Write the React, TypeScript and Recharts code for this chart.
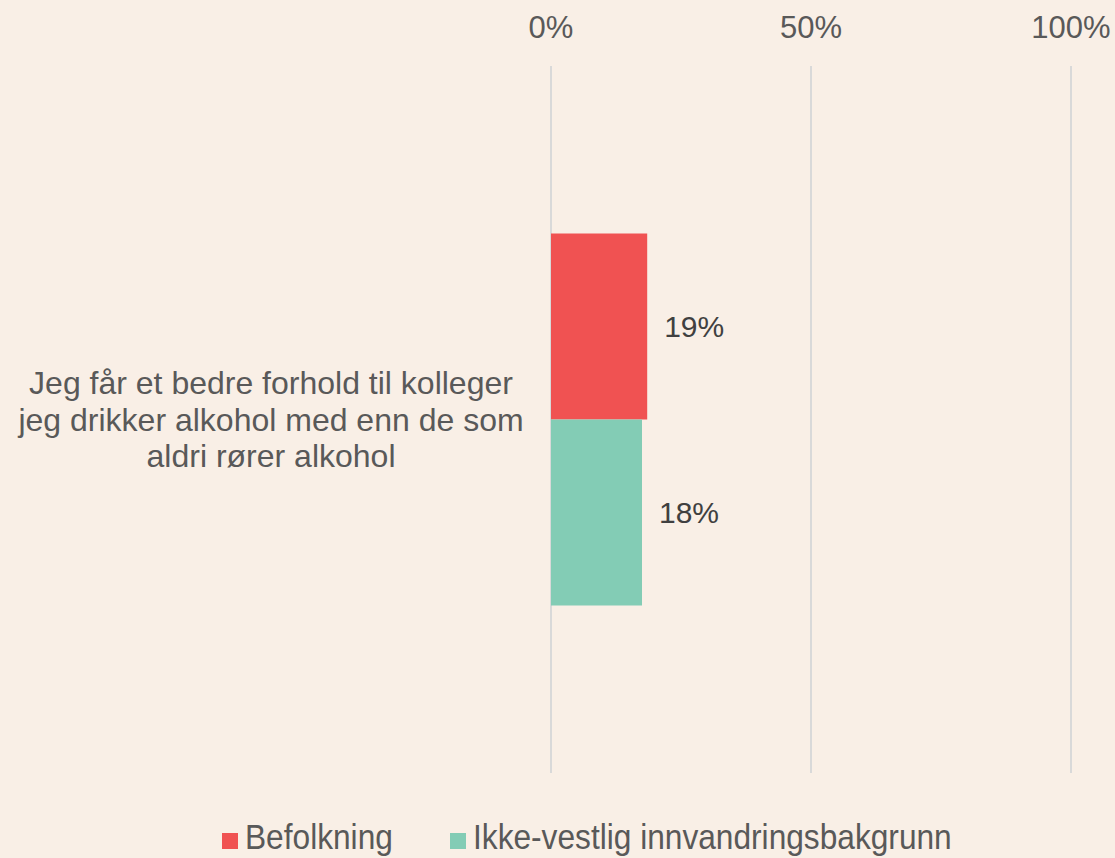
import React from "react";
import { BarChart, Bar, XAxis, YAxis, CartesianGrid, LabelList, Legend } from "recharts";

const categories = [
  "Jeg får et bedre forhold til kolleger jeg drikker alkohol med enn de som aldri rører alkohol",
];
const categoryLines = [
  [
    "Jeg får et bedre forhold til kolleger",
    "jeg drikker alkohol med enn de som",
    "aldri rører alkohol",
  ],
];
const befolkning = [0.185];
const ikkeVestlig = [0.175];
const xTicks = [0, 0.5, 1];
const seriesNames = ["Befolkning", "Ikke-vestlig innvandringsbakgrunn"];
const seriesColors = ["#F05252", "#83CCB5"];

const data = categories.map((c, i) => ({
  label: c,
  lines: categoryLines[i],
  befolkning: befolkning[i],
  ikkeVestlig: ikkeVestlig[i],
}));

const BG = "#F9EFE6";
const FONT = "'Liberation Sans', Arial, sans-serif";

const pct = (v: number) => `${Math.round(v * 100)}%`;

const YTick = (props: any) => {
  const { y, payload } = props;
  const idx = categories.indexOf(payload.value);
  const lines = idx >= 0 ? categoryLines[idx] : [payload.value];
  const lh = 36.5;
  const start = -((lines.length - 1) * lh) / 2;
  return (
    <text
      x={271}
      y={y}
      textAnchor="middle"
      fill="#595959"
      fontSize={32}
      fontFamily={FONT}
      dominantBaseline="central"
    >
      {lines.map((l: string, i: number) => (
        <tspan key={i} x={271} y={y + start + i * lh} dominantBaseline="central">
          {l}
        </tspan>
      ))}
    </text>
  );
};

const LegendContent = () => {
  const items = [
    { x: 222, name: seriesNames[0], color: seriesColors[0] },
    { x: 450, name: seriesNames[1], color: seriesColors[1] },
  ];
  return (
    <svg width={1115} height={85} style={{ display: "block" }}>
      {items.map((it, i) => (
        <g key={i}>
          <rect x={it.x} y={60} width={16} height={16} fill={it.color} />
          <text
            x={0}
            y={76}
            fontSize={36}
            fontFamily={FONT}
            fill="#595959"
            transform={`translate(${it.x + 23},0) scale(0.88,1)`}
          >
            {it.name}
          </text>
        </g>
      ))}
    </svg>
  );
};

export default function App() {
  return (
    <div
      style={{
        position: "absolute",
        left: 0,
        top: 0,
        width: 1115,
        height: 858,
        background: BG,
        overflow: "hidden",
      }}
    >
      <BarChart
        width={1115}
        height={858}
        data={data}
        layout="vertical"
        margin={{ top: 0, right: 44, bottom: 0, left: 0 }}
        barCategoryGap="23.7%"
        barGap={0}
      >
        <CartesianGrid
          horizontal={false}
          vertical={true}
          stroke="#D9D9D9"
          strokeWidth={2}
        />
        <XAxis
          type="number"
          orientation="top"
          domain={[0, 1]}
          ticks={xTicks}
          tickFormatter={pct}
          axisLine={false}
          tickLine={false}
          tickSize={0}
          tickMargin={28}
          height={66}
          interval={0}
          tick={{ fontSize: 31, fill: "#595959", fontFamily: FONT }}
        />
        <YAxis
          type="category"
          dataKey="label"
          width={551}
          axisLine={false}
          tickLine={false}
          tick={<YTick />}
        />
        <Legend
          verticalAlign="bottom"
          content={<LegendContent />}
          wrapperStyle={{ left: 0, width: 1115, height: 85 }}
        />
        <Bar dataKey="befolkning" name={seriesNames[0]} fill={seriesColors[0]} isAnimationActive={false}>
          <LabelList
            dataKey="befolkning"
            position="right"
            offset={17}
            formatter={pct}
            style={{ fontSize: 30, fill: "#404040", fontFamily: FONT }}
          />
        </Bar>
        <Bar dataKey="ikkeVestlig" name={seriesNames[1]} fill={seriesColors[1]} isAnimationActive={false}>
          <LabelList
            dataKey="ikkeVestlig"
            position="right"
            offset={17}
            formatter={pct}
            style={{ fontSize: 30, fill: "#404040", fontFamily: FONT }}
          />
        </Bar>
      </BarChart>
    </div>
  );
}
